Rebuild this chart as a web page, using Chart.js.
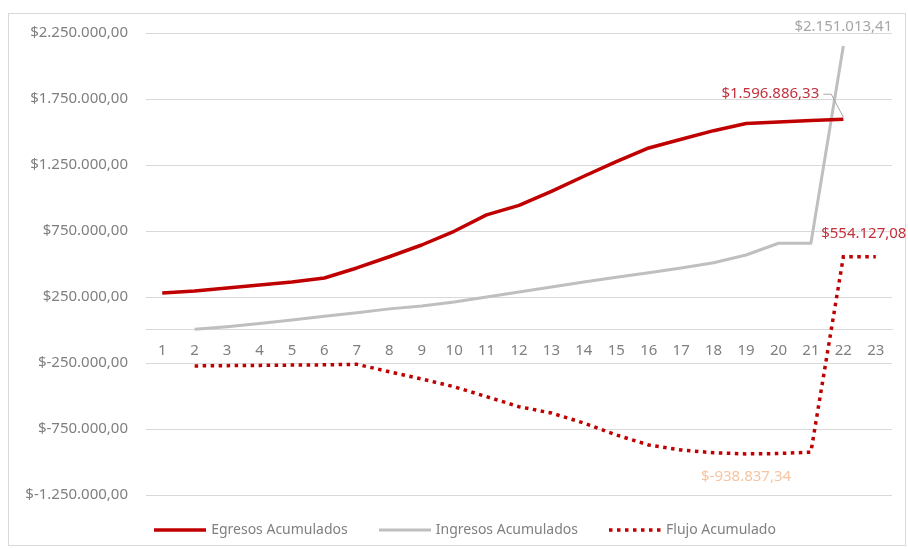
<!DOCTYPE html>
<html>
<head>
<meta charset="utf-8">
<script src="https://cdn.jsdelivr.net/npm/chart.js@4/dist/chart.umd.min.js"></script>
<style>
  html, body { margin: 0; padding: 0; background: #ffffff; }
  canvas { display: block; }
</style>
</head>
<body>
<canvas id="chart" width="908" height="549"></canvas>
<script>
// Periodos 1..23
const categories = ['1','2','3','4','5','6','7','8','9','10','11','12','13','14','15','16','17','18','19','20','21','22','23'];

const egresos = [280000, 295000, 318000, 341000, 364000, 394000, 470000, 555000, 644000, 748000,
  872000, 944000, 1050000, 1165000, 1275000, 1379000, 1445000, 1510000, 1565000, 1575000,
  1587000, 1596886.33, null];

const ingresos = [null, 5000, 25000, 50000, 75000, 105000, 130000, 160000, 182000, 212000,
  250000, 288000, 326000, 364000, 400000, 434000, 470000, 510000, 568000, 657000,
  657000, 2151013.41, null];

const flujo = [null, -272000, -270000, -268000, -266000, -264000, -260000, -316000, -371000, -430000,
  -505000, -581000, -629000, -705000, -795000, -871000, -909000, -930000, -938837.34, -936000,
  -925000, 554127.08, 554127.08];

const yTicks = [-1250000, -750000, -250000, 250000, 750000, 1250000, 1750000, 2250000];

// Formato moneda: $1.596.886,33
function money(v) {
  const neg = v < 0;
  const parts = Math.abs(v).toFixed(2).split('.');
  const ent = parts[0].replace(/\B(?=(\d{3})+(?!\d))/g, '.');
  return '$' + (neg ? '-' : '') + ent + ',' + parts[1];
}

const FONT = 'Noto Sans';
const TEXT = '#7f7f7f';
const GRID = '#d9d9d9';
const RED = '#c00000';

// Muestra de línea para la leyenda (respeta el guion del conjunto)
function lineSample(color, width, dash) {
  const c = document.createElement('canvas');
  c.width = 52;
  c.height = 6;
  const g = c.getContext('2d');
  g.strokeStyle = color;
  g.lineWidth = width;
  g.lineCap = 'butt';
  g.setLineDash(dash || []);
  g.beginPath();
  g.moveTo(0, 3);
  g.lineTo(52, 3);
  g.stroke();
  return c;
}

// Fondo blanco y marco del gráfico
const frame = {
  id: 'frame',
  beforeDraw(chart) {
    const ctx = chart.ctx;
    ctx.save();
    ctx.fillStyle = '#ffffff';
    ctx.fillRect(0, 0, chart.width, chart.height);
    ctx.strokeStyle = GRID;
    ctx.lineWidth = 1;
    ctx.strokeRect(8.5, 13.5, 897, 532);
    ctx.restore();
  }
};

// Leyenda inferior: altura fija y bloque desplazado bajo el área de trazado
const legendBox = {
  id: 'legendBox',
  beforeInit(chart) {
    const lg = chart.legend;
    if (!lg) return;
    const fit = lg.fit;
    lg.fit = function () {
      fit.call(this);
      this.height = 54;
    };
  },
  afterLayout(chart) {
    if (chart.legend) {
      chart.legend.left += 40;
      chart.legend.top -= 5;
    }
  }
};

// Etiquetas de datos
const dataLabels = {
  id: 'dataLabels',
  afterDatasetsDraw(chart) {
    const ctx = chart.ctx;
    const items = [
      { ds: 1, idx: 21, color: '#a6a6a6', dx: 0, dy: -19 },
      { ds: 0, idx: 21, color: '#c4303a', dx: -73, dy: -25, leader: true },
      { ds: 2, idx: 22, color: '#c4303a', dx: -12, dy: -23 },
      { ds: 2, idx: 18, color: '#f6c4a0', dx: 0, dy: 23 }
    ];
    ctx.save();
    ctx.font = '15px "' + FONT + '"';
    ctx.textAlign = 'center';
    ctx.textBaseline = 'middle';
    items.forEach(it => {
      const pt = chart.getDatasetMeta(it.ds).data[it.idx];
      const value = chart.data.datasets[it.ds].data[it.idx];
      const text = money(value);
      const x = pt.x + it.dx;
      const y = pt.y + it.dy;
      if (it.leader) {
        const w = ctx.measureText(text).width;
        ctx.strokeStyle = '#a6a6a6';
        ctx.lineWidth = 1;
        ctx.beginPath();
        ctx.moveTo(x + w / 2 + 4, y);
        ctx.lineTo(x + w / 2 + 12, y);
        ctx.lineTo(pt.x, pt.y - 2);
        ctx.stroke();
      }
      ctx.fillStyle = it.color;
      ctx.fillText(text, x, y);
    });
    ctx.restore();
  }
};

new Chart(document.getElementById('chart'), {
  type: 'line',
  data: {
    labels: categories,
    datasets: [
      {
        label: 'Egresos Acumulados',
        data: egresos,
        borderColor: RED,
        backgroundColor: RED,
        borderWidth: 3.5,
        borderJoinStyle: 'round',
        pointRadius: 0,
        tension: 0,
        fill: false
      },
      {
        label: 'Ingresos Acumulados',
        data: ingresos,
        borderColor: '#bfbfbf',
        backgroundColor: '#bfbfbf',
        borderWidth: 3,
        borderJoinStyle: 'round',
        pointRadius: 0,
        tension: 0,
        fill: false
      },
      {
        label: 'Flujo Acumulado',
        data: flujo,
        borderColor: RED,
        backgroundColor: RED,
        borderWidth: 3.5,
        borderDash: [3.5, 4.5],
        borderCapStyle: 'butt',
        pointRadius: 0,
        tension: 0,
        fill: false
      }
    ]
  },
  options: {
    responsive: false,
    animation: false,
    layout: { padding: { left: 0, right: 16, top: 33, bottom: 0 } },
    scales: {
      x: {
        position: { y: 0 },
        offset: true,
        grid: { display: false, drawTicks: false },
        border: { display: true, color: GRID, width: 1 },
        ticks: {
          color: TEXT,
          font: { family: FONT, size: 15 },
          padding: 12,
          maxRotation: 0,
          autoSkip: false
        }
      },
      y: {
        min: -1250000,
        max: 2250000,
        afterBuildTicks: s => { s.ticks = yTicks.map(v => ({ value: v })); },
        afterFit: s => { s.width = 146; },
        grid: { color: GRID, lineWidth: 1, drawTicks: false },
        border: { display: false },
        ticks: {
          color: TEXT,
          font: { family: FONT, size: 15 },
          padding: 18,
          callback: v => money(v)
        }
      }
    },
    plugins: {
      legend: {
        position: 'bottom',
        labels: {
          usePointStyle: true,
          pointStyleWidth: 48,
          padding: 33,
          color: TEXT,
          font: { family: FONT, size: 14 },
          generateLabels(chart) {
            const items = Chart.defaults.plugins.legend.labels.generateLabels(chart);
            items.forEach(item => {
              const ds = chart.data.datasets[item.datasetIndex];
              item.pointStyle = lineSample(ds.borderColor, ds.borderWidth, ds.borderDash);
            });
            return items;
          }
        }
      },
      tooltip: { enabled: false }
    }
  },
  plugins: [frame, legendBox, dataLabels]
});
</script>
</body>
</html>
